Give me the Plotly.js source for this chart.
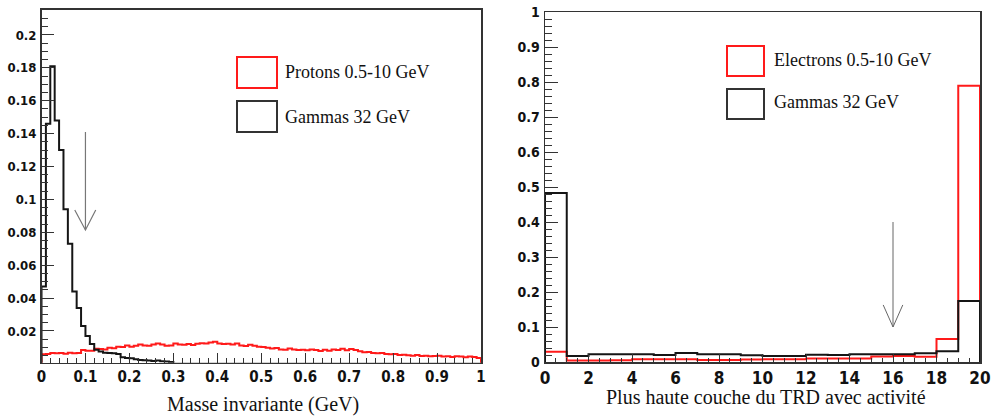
<!DOCTYPE html>
<html>
<head>
<meta charset="utf-8">
<script src="https://cdn.plot.ly/plotly-3.0.1.min.js"></script>
<style>html,body{margin:0;padding:0;background:#fff;}#chart{width:992px;height:417px;}</style>
</head>
<body>
<div id="chart"></div>
<script>
// ---------- DATA ----------
// Left panel: invariant mass histograms, bins of 0.01 GeV from 0 to 1
const massBinWidth = 0.01;
const massBinCount = 100;
const protonsMass = [
  0.0058,0.0060,0.0066,0.0064,0.0066,0.0062,0.0068,0.0064,0.0066,0.0084,
  0.0080,0.0079,0.0092,0.0090,0.0088,0.0098,0.0095,0.0104,0.0102,0.0112,
  0.0104,0.0110,0.0118,0.0112,0.0110,0.0118,0.0124,0.0118,0.0110,0.0112,
  0.0124,0.0118,0.0116,0.0120,0.0114,0.0122,0.0126,0.0124,0.0130,0.0134,
  0.0124,0.0120,0.0122,0.0118,0.0124,0.0112,0.0108,0.0116,0.0110,0.0104,
  0.0102,0.0098,0.0094,0.0096,0.0088,0.0086,0.0094,0.0088,0.0084,0.0086,
  0.0082,0.0088,0.0084,0.0078,0.0086,0.0080,0.0088,0.0084,0.0092,0.0082,
  0.0090,0.0084,0.0076,0.0070,0.0072,0.0066,0.0064,0.0066,0.0060,0.0058,
  0.0060,0.0054,0.0056,0.0052,0.0050,0.0054,0.0048,0.0050,0.0046,0.0048,
  0.0050,0.0044,0.0046,0.0042,0.0046,0.0044,0.0040,0.0044,0.0042,0.0036
];
const gammasMass = [
  0.047,0.146,0.181,0.148,0.130,0.094,0.073,0.044,0.034,0.023,
  0.017,0.012,0.0085,0.0075,0.0068,0.0066,0.0064,0.0060,0.0040,0.0036,
  0.0034,0.0028,0.0024,0.0022,0.0020,0.0018,0.0020,0.0016,0.0014,0.0012,
  0,0,0,0,0,0,0,0,0,0,
  0,0,0,0,0,0,0,0,0,0,
  0,0,0,0,0,0,0,0,0,0,
  0,0,0,0,0,0,0,0,0,0,
  0,0,0,0,0,0,0,0,0,0,
  0,0,0,0,0,0,0,0,0,0,
  0,0,0,0,0,0,0,0,0,0
];
const massTickLabels = ["0","0.1","0.2","0.3","0.4","0.5","0.6","0.7","0.8","0.9","1"];
const fracTickLabelsLeft = ["0.02","0.04","0.06","0.08","0.1","0.12","0.14","0.16","0.18","0.2"];

// Right panel: highest TRD layer with activity, bins of 1 from 0 to 20
const layerBins = [0,1,2,3,4,5,6,7,8,9,10,11,12,13,14,15,16,17,18,19,20];
const electronsLayer = [0.029,0.004,0.004,0.005,0.008,0.008,0.008,0.006,0.006,0.007,
                        0.008,0.008,0.010,0.010,0.010,0.016,0.017,0.015,0.066,0.789];
const gammasLayer = [0.483,0.017,0.022,0.022,0.022,0.020,0.026,0.022,0.022,0.019,
                     0.017,0.017,0.021,0.020,0.022,0.022,0.022,0.025,0.031,0.174];
const layerTickLabels = ["0","2","4","6","8","10","12","14","16","18","20"];
const fracTickLabelsRight = ["0","0.1","0.2","0.3","0.4","0.5","0.6","0.7","0.8","0.9","1"];

const legendLeft = ["Protons 0.5-10 GeV","Gammas 32 GeV"];
const legendRight = ["Electrons 0.5-10 GeV","Gammas 32 GeV"];
const titleLeft = "Masse invariante (GeV)";
const titleRight = "Plus haute couche du TRD avec activité";

// ---------- helpers ----------
function stepXY(edges, vals){
  const x=[edges[0]], y=[0];
  for(let i=0;i<vals.length;i++){ x.push(edges[i]); y.push(vals[i]); }
  x.push(edges[vals.length]); y.push(0);
  return {x, y};
}
const massEdges = [];
for(let i=0;i<=massBinCount;i++){ massEdges.push(+(i*massBinWidth).toFixed(4)); }
const bold = arr => arr.map(s => "<b>" + s + "</b>");

const RED = "#ff1a1a", BLACK = "#151515";
const pL = stepXY(massEdges, protonsMass);
const gL = stepXY(massEdges, gammasMass);
const eR = stepXY(layerBins, electronsLayer);
const gR = stepXY(layerBins, gammasLayer);

const traces = [
  {x:pL.x, y:pL.y, mode:"lines", line:{shape:"hv", color:RED, width:2}, xaxis:"x", yaxis:"y", hoverinfo:"skip"},
  {x:gL.x, y:gL.y, mode:"lines", line:{shape:"hv", color:BLACK, width:2}, xaxis:"x", yaxis:"y", hoverinfo:"skip"},
  {x:eR.x, y:eR.y, mode:"lines", line:{shape:"hv", color:RED, width:2}, xaxis:"x2", yaxis:"y2", hoverinfo:"skip"},
  {x:gR.x, y:gR.y, mode:"lines", line:{shape:"hv", color:BLACK, width:2}, xaxis:"x2", yaxis:"y2", hoverinfo:"skip"}
];

const axisBase = {
  showgrid:false, zeroline:false, showline:true, linecolor:"#333", linewidth:1.5, mirror:true,
  ticks:"inside", tickcolor:"#333", tickwidth:1, fixedrange:true, tickmode:"array"
};
const tickFam = "DejaVu Sans Condensed, DejaVu Sans, sans-serif";

const W=992, H=417;
const px = v => v/W, py = v => 1 - v/H;
const serif = "Liberation Serif, Times New Roman, serif";

const layout = {
  width:W, height:H, margin:{l:0,r:0,t:0,b:0},
  paper_bgcolor:"#fff", plot_bgcolor:"#fff", showlegend:false,
  xaxis: Object.assign({}, axisBase, {
    domain:[px(41.5), px(481)], range:[0,1],
    tickvals:massTickLabels.map(Number), ticktext:bold(massTickLabels), ticklen:10,
    minor:{ticks:"inside", dtick:0.02, ticklen:5, tickcolor:"#333"},
    tickfont:{family:tickFam, size:15, color:"#111", weight:700}, anchor:"y"
  }),
  yaxis: Object.assign({}, axisBase, {
    domain:[py(362.7), py(9.5)], range:[0.0007,0.2155],
    tickvals:fracTickLabelsLeft.map(Number), ticktext:bold(fracTickLabelsLeft), ticklen:12,
    minor:{ticks:"inside", dtick:0.005, ticklen:6, tickcolor:"#333"},
    tickfont:{family:tickFam, size:13, color:"#111", weight:700}, anchor:"x", ticklabelstandoff:1
  }),
  xaxis2: Object.assign({}, axisBase, {
    domain:[px(545), px(980)], range:[0,20],
    tickvals:layerTickLabels.map(Number), ticktext:bold(layerTickLabels), ticklen:8,
    minor:{ticks:"inside", dtick:0.5, ticklen:4, tickcolor:"#333"},
    tickfont:{family:tickFam, size:17, color:"#111", weight:700}, anchor:"y2"
  }),
  yaxis2: Object.assign({}, axisBase, {
    domain:[py(362), py(12)], range:[0,1],
    tickvals:fracTickLabelsRight.map(Number), ticktext:bold(fracTickLabelsRight), ticklen:13,
    minor:{ticks:"inside", dtick:0.02, ticklen:7, tickcolor:"#333"},
    tickfont:{family:tickFam, size:14, color:"#111", weight:700}, anchor:"x2", ticklabelstandoff:1
  }),
  shapes:[
    {type:"rect", xref:"paper", yref:"paper", x0:px(237), x1:px(277), y0:py(88), y1:py(57), line:{color:RED, width:2}},
    {type:"rect", xref:"paper", yref:"paper", x0:px(237), x1:px(277), y0:py(132), y1:py(101), line:{color:"#333", width:2}},
    {type:"rect", xref:"paper", yref:"paper", x0:px(727), x1:px(764), y0:py(76), y1:py(46), line:{color:RED, width:2}},
    {type:"rect", xref:"paper", yref:"paper", x0:px(727), x1:px(764), y0:py(119), y1:py(89), line:{color:"#333", width:2}},
    {type:"line", xref:"x", yref:"y", x0:0.1, x1:0.1, y0:0.141, y1:0.0814, line:{color:"#777", width:1.2}},
    {type:"path", xref:"x", yref:"y", path:"M 0.0757 0.0936 L 0.1 0.0814 L 0.1234 0.0936", line:{color:"#777", width:1.2}},
    {type:"line", xref:"x2", yref:"y2", x0:16, x1:16, y0:0.40, y1:0.10, line:{color:"#666", width:1}},
    {type:"path", xref:"x2", yref:"y2", path:"M 15.55 0.163 L 16 0.10 L 16.45 0.163", line:{color:"#666", width:1}}
  ],
  annotations:[
    {xref:"paper", yref:"paper", x:px(283), y:py(72), xanchor:"left", yanchor:"middle", showarrow:false,
     text:legendLeft[0], font:{family:serif, size:18, color:"#111"}},
    {xref:"paper", yref:"paper", x:px(283), y:py(117), xanchor:"left", yanchor:"middle", showarrow:false,
     text:legendLeft[1], font:{family:serif, size:18, color:"#111"}},
    {xref:"paper", yref:"paper", x:px(772), y:py(60), xanchor:"left", yanchor:"middle", showarrow:false,
     text:legendRight[0], font:{family:serif, size:18, color:"#111"}},
    {xref:"paper", yref:"paper", x:px(772), y:py(102), xanchor:"left", yanchor:"middle", showarrow:false,
     text:legendRight[1], font:{family:serif, size:18, color:"#111"}},
    {xref:"paper", yref:"paper", x:px(263), y:py(404), xanchor:"center", yanchor:"middle", showarrow:false,
     text:titleLeft, font:{family:serif, size:20, color:"#111"}},
    {xref:"paper", yref:"paper", x:px(766), y:py(397), xanchor:"center", yanchor:"middle", showarrow:false,
     text:titleRight, font:{family:serif, size:20, color:"#111"}}
  ]
};

Plotly.newPlot("chart", traces, layout, {staticPlot:true, displayModeBar:false});
</script>
</body>
</html>
